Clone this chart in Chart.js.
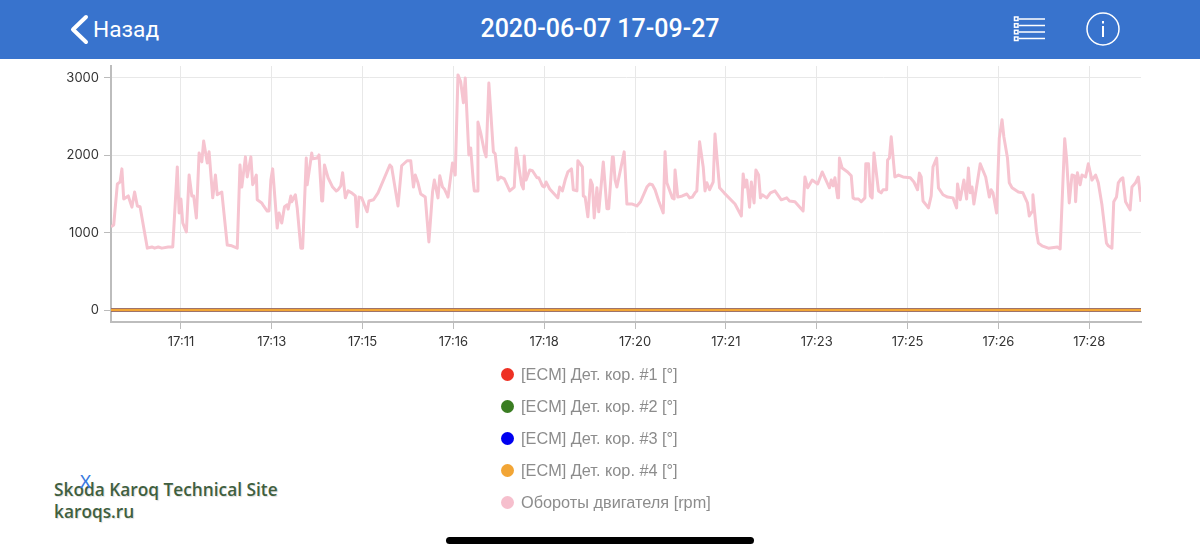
<!DOCTYPE html>
<html lang="ru">
<head>
<meta charset="utf-8">
<title>2020-06-07 17-09-27</title>
<script src="https://cdn.jsdelivr.net/npm/chart.js@4"></script>
<style>
  html, body { margin:0; padding:0; width:1200px; height:555px; overflow:hidden; background:#fff; font-family:Inter, "Liberation Sans", sans-serif; }
  .topbar { position:absolute; left:0; top:0; width:1200px; height:59px; background:#3873cd; color:#fff; }
  .topbar svg { position:absolute; left:0; top:0; }
  .back { position:absolute; left:93px; top:16px; font-size:22.7px; line-height:28px; font-family:Roboto, sans-serif; }
  .title { position:absolute; left:0; width:1200px; top:14px; text-align:center; font-size:25px; line-height:30px; font-weight:500; font-family:Roboto, sans-serif; }
  #chart-wrap { position:absolute; left:0; top:60px; width:1200px; height:300px; }
  #legend { position:absolute; left:501px; top:358px; color:#8c8c8c; font:16.3px/32px "Liberation Sans", sans-serif; }
  #legend div { height:32px; white-space:nowrap; }
  #legend i { display:inline-block; width:13px; height:13px; border-radius:50%; margin-right:7px; vertical-align:-1px; }
  .mark { position:absolute; left:54px; font:600 17.3px/22px "Open Sans", sans-serif; color:#3f5f3f; text-shadow:1px 1px 1px #ddd; }
  .xmark { position:absolute; left:80px; top:473px; font:400 17px/18px Lato, sans-serif; color:#3a7ae0; }
  .home { position:absolute; left:446px; top:537px; width:308px; height:7px; border-radius:4px; background:#000; }
</style>
</head>
<body>
<div class="topbar">
  <svg width="1200" height="59" fill="none" stroke="#fff">
    <path d="M86 17 L73 29.5 L86 42" stroke-width="4" stroke-linecap="round" stroke-linejoin="round"/>
    <g stroke-width="1.5">
      <path d="M1019 19H1045M1019 25.5H1045M1019 32H1045M1019 38.5H1045"/>
      <rect x="1014.5" y="17" width="3.5" height="3.5"/><rect x="1014.5" y="23.7" width="3.5" height="3.5"/>
      <rect x="1014.5" y="30.3" width="3.5" height="3.5"/><rect x="1014.5" y="37" width="3.5" height="3.5"/>
      <circle cx="1103" cy="29" r="16"/>
      <path d="M1103 26V37M1103 21V23.5" stroke-width="2"/>
    </g>
  </svg>
  <div class="back">Назад</div>
  <div class="title">2020-06-07 17-09-27</div>
</div>
<div id="chart-wrap"><canvas id="chart"></canvas></div>
<div id="legend"></div>
<div class="mark" style="top:479px">Skoda Karoq Technical Site</div>
<div class="mark" style="top:501px">karoqs.ru</div>
<div class="xmark">X</div>
<div class="home"></div>
<script>
// Время в секундах от начала оси (17:10:03)
const sampleTimes = [0,3,7,10,12,14,19,23,26,29,32,40,45,48,52,56,63,68,73,75,77,79,83,86,89,91,94,97,100,102,106,108,112,115,117,122,128,133,139,142,144,148,150,154,156,
  157,160,161,166,168,172,174,176,178,183,185,188,191,194,195,198,199,203,205,209,211,215,216,221,222,227,229,232,233,235,239,244,248,250,253,255,258,261,265,269,271,273,276,282,284,289,294,307,309,316,
  320,326,330,333,335,338,341,346,350,354,356,360,362,365,367,370,371,376,379,382,385,388,390,394,396,399,400,403,404,407,411,413,416,421,423,426,429,433,439,444,446,452,454,455,457,461,464,469,471,
  475,477,479,483,491,492,494,497,500,503,507,509,513,514,519,520,522,525,528,530,532,535,537,542,546,548,552,553,555,557,565,568,574,579,583,590,593,596,599,603,608,610,612,618,620,621,624,629,
  634,637,640,643,645,648,652,654,656,659,663,665,666,670,675,687,694,696,698,700,703,705,708,710,713,715,717,722,726,731,738,744,747,753,762,764,767,772,778,783,791,
  793,795,797,800,801,802,805,811,815,817,819,823,826,830,831,834,836,838,840,845,848,850,854,855,857,859,863,867,872,880,884,888,890,892,894,900,903,905,909,911,916,921,927,931,932,935,939,942,944,946,948,950,957,
  963,967,969,971,975,978,981,983,987,989,992,999,1004,1009,1011,1014,1015,1019,1021,1025,1032,1042,1045,1050,1052,1055,1058,1061,1062,1064,1067,1069,1073,1076,1080,1084,1087,1091,1096,1098,1102,1104,1107,1109,1112,1114,1117,1122,1124,1128,1131,1134];
const rpmValues = [1075,1100,1630,1655,1825,1435,1475,1330,1525,1345,1335,800,815,800,815,800,815,815,1850,1255,1435,1125,1010,1745,1475,1475,1190,2030,1915,2185,1900,2045,1450,1745,1490,1525,840,830,800,1875,1590,1980,1720,1980,1620,
  1645,1745,1425,1385,1345,1280,1280,1680,1825,1060,1255,1125,1335,1360,1305,1475,1400,1490,1320,800,800,1965,1620,2030,1955,1965,2005,1410,1410,1875,1710,1590,1540,1555,1605,1775,1450,1540,1515,1475,1075,1460,1450,1270,1410,1425,1515,1875,1850,1345,
  1865,1930,1930,1590,1745,1645,1500,1460,880,1525,1680,1450,1735,1590,1565,1490,1460,1900,1745,3040,2950,2680,3000,2005,2095,1645,1540,1540,2430,2290,2055,1980,2935,2045,2020,1680,1720,1695,1540,1590,2095,1620,1565,1990,1680,1810,1800,1710,1710,
  1605,1590,1655,1565,1460,1450,1590,1540,1680,1785,1825,1555,1540,1930,1850,1475,1460,1205,1680,1620,1190,1580,1270,1915,1310,1310,1980,1980,1680,1590,2045,1370,1370,1345,1400,1590,1630,1620,1555,1410,1255,2045,1645,1450,1435,1810,1460,1475,
  1500,1450,1460,1515,1540,2175,1850,1540,1645,1555,1655,2275,2275,1580,1515,1370,1215,1760,1590,1680,1330,1655,1385,1810,1745,1450,1490,1450,1515,1540,1425,1450,1410,1400,1280,1720,1580,1680,1630,1785,1580,
  1680,1605,1710,1450,1450,1965,1835,1785,1735,1450,1435,1435,1400,1450,1890,1890,1475,1450,2030,1540,1515,1555,1555,1940,1965,2240,1720,1745,1720,1710,1655,1555,1770,1720,1410,1320,1475,1850,1965,1580,1490,1460,1450,1320,1630,1425,1680,1435,1835,1515,1590,1370,1890,
  1720,1460,1555,1515,1255,2225,2460,2240,1965,1645,1580,1525,1515,1385,1215,1270,1490,1010,865,830,800,815,790,2215,1965,1385,1745,1735,1400,1775,1620,1745,1720,1890,1680,1745,1645,1360,865,830,800,1400,1460,1645,1695,1710,1400,1295,1590,1645,1720,1400];
const knockTimes = [0,177,377,577,777,977,1134];
const knock1 = [0,0,0,0,0,0,0];
const knock2 = [0,0,0,0,0,0,0];
const knock3 = [0,0,0,0,0,0,0];
const knock4 = [0,0,0,0,0,0,0];
const xTicks = [77,177,277,377,477,577,677,777,877,977,1077];
const xTickLabels = ['17:11','17:13','17:15','17:16','17:18','17:20','17:21','17:23','17:25','17:26','17:28'];
const yTicks = [0,1000,2000,3000];

const pts = (xs, ys) => xs.map((x,i) => ({ x, y: ys[i] }));
const line = (label, color, width, order, xs, ys, legendColor) => ({ label, data: pts(xs, ys), borderColor: color, backgroundColor: legendColor || color, borderWidth: width, borderJoinStyle: 'round', order, pointRadius: 0, tension: 0 });

const chart = new Chart(document.getElementById('chart'), {
  type: 'line',
  data: { datasets: [
    line('[ECM] Дет. кор. #1 [°]', '#ee3124', 3, 4, knockTimes, knock1),
    line('[ECM] Дет. кор. #2 [°]', '#3a7d22', 3, 3, knockTimes, knock2),
    line('[ECM] Дет. кор. #3 [°]', '#0000f0', 3, 2, knockTimes, knock3),
    line('[ECM] Дет. кор. #4 [°]', '#f2a535', 3, 1, knockTimes, knock4),
    line('Обороты двигателя [rpm]', '#f6c4d0', 3, 0, sampleTimes, rpmValues, '#f6bfcd')
  ] },
  options: {
    responsive: true, maintainAspectRatio: false, animation: false,
    layout: { padding: { top: 6, right: 59 } },
    plugins: { legend: { display: false }, tooltip: { enabled: false } },
    scales: {
      x: {
        type: 'linear', min: 0, max: 1134,
        afterBuildTicks: s => { s.ticks = xTicks.map(value => ({ value })); },
        afterFit: s => { s.height = 38; },
        ticks: { autoSkip: false, maxRotation: 0, padding: 5, color: '#333', font: { family: 'Inter', size: 13 }, callback: v => xTickLabels[xTicks.indexOf(v)] },
        grid: { color: '#e8e8e8', tickColor: '#bbb', tickLength: 7 },
        border: { color: '#bdbdbd', width: 2 }
      },
      y: {
        min: -155, max: 3155,
        afterBuildTicks: s => { s.ticks = yTicks.map(value => ({ value })); },
        afterFit: s => { s.width = 111; s.paddingTop = 0; },
        ticks: { padding: 5, color: '#333', font: { family: 'Inter', size: 13 } , callback: v => String(v) },
        grid: { color: '#e8e8e8', tickColor: '#bbb', tickLength: 7 },
        border: { color: '#bdbdbd', width: 2 }
      }
    }
  }
});

// Легенда столбиком
document.getElementById('legend').innerHTML = chart.data.datasets
  .map(d => `<div><i style="background:${d.backgroundColor}"></i>${d.label}</div>`).join('');
</script>
</body>
</html>
